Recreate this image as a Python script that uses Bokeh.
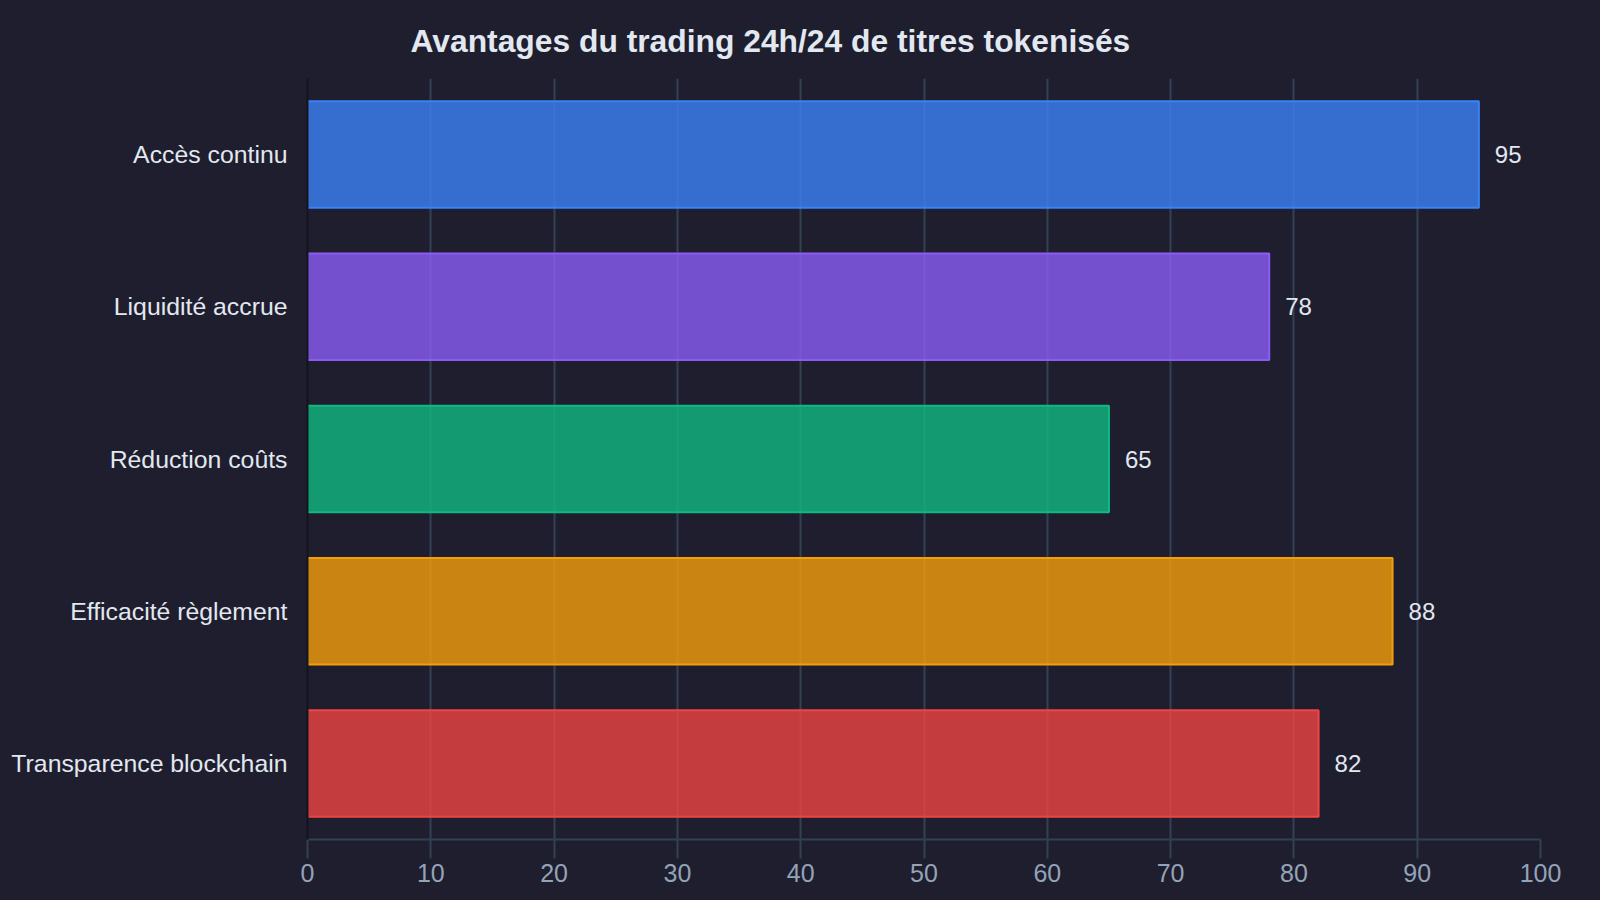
from bokeh.plotting import figure
from bokeh.models import ColumnDataSource, FixedTicker, Range1d
from bokeh.core.properties import value
from bokeh.embed import file_html
from bokeh.resources import INLINE

categories = ["Accès continu", "Liquidité accrue", "Réduction coûts",
              "Efficacité règlement", "Transparence blockchain"]
scores = [95, 78, 65, 88, 82]
colors = ["#3b82f6", "#8b5cf6", "#10b981", "#f59e0b", "#ef4444"]
x_ticks = [0, 10, 20, 30, 40, 50, 60, 70, 80, 90, 100]
title_text = "Avantages du trading 24h/24 de titres tokenisés"

BG = "#1e1e2e"
GRID = "#334155"
FONT = "Liberation Sans"

src = ColumnDataSource(dict(cat=categories, val=scores, col=colors,
                            lbl=[str(v) for v in scores]))

p = figure(y_range=list(reversed(categories)), x_range=Range1d(0, 100),
           frame_width=1233, frame_height=761,
           min_border_left=307, min_border_right=52,
           min_border_top=78, min_border_bottom=52,
           output_backend="svg", toolbar_location=None,
           background_fill_color=BG, border_fill_color=BG,
           outline_line_color=None)

p.y_range.range_padding = 0

p.hbar(y="cat", right="val", left=0, height=0.7, source=src,
       fill_color="col", fill_alpha=0.8, line_color="col", line_width=2)

p.text(x="val", y="cat", text="lbl", source=src, x_offset=16,
       text_baseline="middle", text_align="left",
       text_color="#e2e8f0", text_font=value(FONT), text_font_size="24px")

# title
p.title.text = title_text
p.title.align = "left"
p.title.offset = 103
p.title.text_font = FONT
p.title.text_font_size = "31.8px"
p.title.text_font_style = "bold"
p.title.text_color = "#e2e8f0"
p.title.standoff = 40

# x axis
xa = p.xaxis[0]
xa.ticker = FixedTicker(ticks=x_ticks)
xa.axis_line_color = GRID
xa.axis_line_width = 2
xa.major_tick_line_color = GRID
xa.major_tick_line_width = 2
xa.major_tick_out = 19
xa.major_tick_in = 0
xa.minor_tick_line_color = None
xa.major_label_text_color = "#94a3b8"
xa.major_label_text_font = FONT
xa.major_label_text_font_size = "25px"
xa.major_label_standoff = 5

# y axis
ya = p.yaxis[0]
ya.axis_line_color = "#14141c"
ya.axis_line_width = 2
ya.major_tick_line_color = None
ya.major_tick_out = 0
ya.major_tick_in = 0
ya.minor_tick_line_color = None
ya.major_label_text_color = "#e2e8f0"
ya.major_label_text_font = FONT
ya.major_label_text_font_size = "24.8px"
ya.major_label_standoff = 20

p.xgrid.grid_line_color = GRID
p.xgrid.grid_line_width = 2
p.xgrid.ticker = FixedTicker(ticks=x_ticks)
p.ygrid.grid_line_color = None

html = file_html(p, INLINE)
html = html.replace("<head>", "<head><style>html,body{background:%s;margin:0;}</style>" % BG, 1)
open("out.html", "w").write(html)
